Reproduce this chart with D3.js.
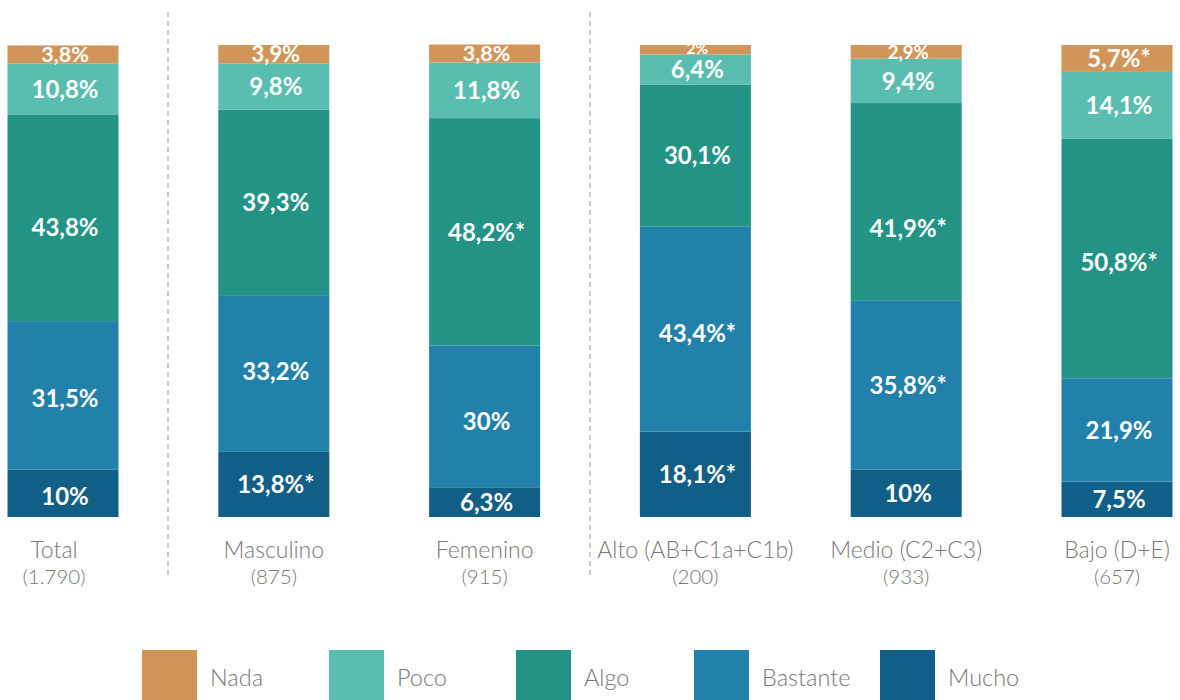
<!DOCTYPE html>
<html>
<head>
<meta charset="utf-8">
<script src="https://cdn.jsdelivr.net/npm/d3@7"></script>
<style>
    body { margin: 0; background: #fff; }
    svg { display: block; }
    .val { font-family: Lato, "Open Sans", sans-serif; font-weight: 700; fill: #fff; }
    .cat { font-family: Lato, "Open Sans", sans-serif; font-weight: 300; fill: #777; }
</style>
</head>
<body>
<div id="chart"></div>
<script>
    'use strict';

    // data
    var groups = ["Total", "Masculino", "Femenino", "Alto (AB+C1a+C1b)", "Medio (C2+C3)", "Bajo (D+E)"];
    var counts = ["(1.790)", "(875)", "(915)", "(200)", "(933)", "(657)"];
    var levels = ["Mucho", "Bastante", "Algo", "Poco", "Nada"];
    var mucho = [10, 13.8, 6.3, 18.1, 10, 7.5];
    var bastante = [31.5, 33.2, 30, 43.4, 35.8, 21.9];
    var algo = [43.8, 39.3, 48.2, 30.1, 41.9, 50.8];
    var poco = [10.8, 9.8, 11.8, 6.4, 9.4, 14.1];
    var nada = [3.8, 3.9, 3.8, 2, 2.9, 5.7];
    // significance marks (*)
    var sigMucho = [false, true, false, true, false, false];
    var sigBastante = [false, false, false, true, true, false];
    var sigAlgo = [false, false, true, false, true, true];
    var sigPoco = [false, false, false, false, false, false];
    var sigNada = [false, false, false, false, false, true];
    var legendOrder = ["Nada", "Poco", "Algo", "Bastante", "Mucho"];

    var colors = {
        "Nada": "#D19559",
        "Poco": "#59BDB0",
        "Algo": "#229385",
        "Bastante": "#2281AB",
        "Mucho": "#115E86"
    };

    var width = 1180, height = 700;
    var barWidth = 111;

    // label nudges (px) where the original placed labels off-centre
    var nudge = {
        "Algo": [10, 0, 0, 0, 26, 4],
        "Bastante": [3, -2, 5, 4, 0, 0],
        "Mucho": [3, 0, 0, 0, 0, 0],
        "Nada": [0, 0, 0, -1, 0, 0]
    };

    var svg = d3.select("#chart").append("svg")
        .attr("width", width)
        .attr("height", height);

    var x = d3.scalePoint()
        .domain(groups)
        .range([63, 1117]);

    var y = d3.scaleLinear()
        .domain([0, 100])
        .range([517, 45]);

    var series = {
        "Mucho": mucho, "Bastante": bastante, "Algo": algo, "Poco": poco, "Nada": nada
    };
    var sig = {
        "Mucho": sigMucho, "Bastante": sigBastante, "Algo": sigAlgo, "Poco": sigPoco, "Nada": sigNada
    };

    var rows = groups.map(function(g, i) {
        var r = { group: g };
        levels.forEach(function(l) { r[l] = series[l][i]; });
        return r;
    });

    var stacked = d3.stack().keys(levels)(rows);

    function fmt(v) {
        return String(v).replace(".", ",") + "%";
    }

    // dashed separators
    svg.selectAll(".sep")
        .data([168, 590])
        .enter().append("line")
        .attr("x1", function(d) { return d; })
        .attr("x2", function(d) { return d; })
        .attr("y1", 12)
        .attr("y2", 578)
        .style("stroke", "#9a9a9a")
        .style("stroke-width", 1)
        .style("stroke-dasharray", "5,4");

    var layer = svg.selectAll(".layer")
        .data(stacked)
        .enter().append("g")
        .attr("class", "layer")
        .style("fill", function(d) { return colors[d.key]; });

    layer.selectAll("rect")
        .data(function(d) { return d; })
        .enter().append("rect")
        .attr("x", function(d) { return x(d.data.group) - barWidth / 2; })
        .attr("y", function(d) { return y(d[1]); })
        .attr("width", barWidth)
        .attr("height", function(d) { return y(d[0]) - y(d[1]); });

    stacked.forEach(function(s) {
        svg.append("g").selectAll("text")
            .data(s)
            .enter().append("text")
            .attr("class", "val")
            .attr("text-anchor", "middle")
            .attr("x", function(d) { return x(d.data.group) + 2; })
            .attr("y", function(d, i) {
                var n = nudge[s.key] ? nudge[s.key][i] : 0;
                return (y(d[0]) + y(d[1])) / 2 + n;
            })
            .attr("dy", "0.36em")
            .style("font-size", function(d) {
                var h = y(d[0]) - y(d[1]);
                return Math.min(24, 9 + h * 0.7) + "px";
            })
            .text(function(d, i) {
                return fmt(d.data[s.key]) + (sig[s.key][i] ? "*" : "");
            });
    });

    // category labels
    var cat = svg.append("g").selectAll("g")
        .data(groups)
        .enter().append("g")
        .attr("transform", function(d, i) {
            return "translate(" + (x(d) - (i === 0 ? 9 : 0)) + ",0)";
        });

    cat.append("text")
        .attr("class", "cat")
        .attr("text-anchor", "middle")
        .attr("y", 558)
        .style("font-size", "23px")
        .text(function(d) { return d; });

    cat.append("text")
        .attr("class", "cat")
        .attr("text-anchor", "middle")
        .attr("y", 584)
        .style("font-size", "20.5px")
        .text(function(d, i) { return counts[i]; });

    // legend
    var legendX = [142, 329, 516, 694, 880];
    var leg = svg.append("g").selectAll("g")
        .data(legendOrder)
        .enter().append("g")
        .attr("transform", function(d, i) { return "translate(" + legendX[i] + ",650)"; });

    leg.append("rect")
        .attr("width", 55)
        .attr("height", 55)
        .style("fill", function(d) { return colors[d]; });

    leg.append("text")
        .attr("class", "cat")
        .attr("x", 68)
        .attr("y", 36)
        .style("font-size", "23.5px")
        .text(function(d) { return d; });
</script>
</body>
</html>
